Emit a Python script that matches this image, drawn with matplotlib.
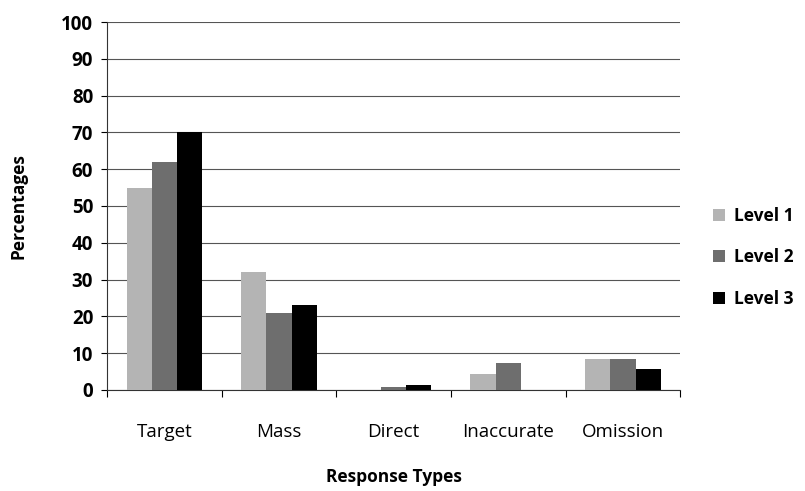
import numpy as np
import matplotlib.pyplot as plt

plt.rcParams['font.family'] = ['Open Sans', 'DejaVu Sans']

categories = ['Target', 'Mass', 'Direct', 'Inaccurate', 'Omission']
level1 = [55, 32, 0, 4.3, 8.3]
level2 = [62, 21, 0.8, 7.3, 8.3]
level3 = [70, 23, 1.4, 0, 5.7]
series_names = ['Level 1', 'Level 2', 'Level 3']

colors = ['#b4b4b4', '#6e6e6e', '#000000']

fig = plt.figure(figsize=(8.05, 4.91), dpi=100)
ax = fig.add_axes([0.133, 0.206, 0.712, 0.749])

x = np.arange(len(categories))
w = 0.22
for i, (vals, name) in enumerate(zip([level1, level2, level3], series_names)):
    ax.bar(x + (i - 1) * w, vals, width=w, color=colors[i], label=name, zorder=3)

ax.set_xlim(-0.5, len(categories) - 0.5)
ax.set_ylim(0, 100)
ax.set_yticks(range(0, 101, 10))
ax.yaxis.grid(True, color='#555555', linewidth=0.8, zorder=0)
for lab in ax.get_yticklabels():
    lab.set_fontweight('bold')
ax.tick_params(axis='y', labelsize=13.5, length=4, direction='out', pad=6)

# boundaries ticks, labels in the middle
ax.set_xticks(np.arange(-0.5, len(categories), 1.0))
ax.set_xticklabels([])
ax.set_xticks(x, minor=True)
ax.set_xticklabels(categories, minor=True, fontsize=13.5)
ax.tick_params(axis='x', which='major', length=5, direction='out')
ax.tick_params(axis='x', which='minor', length=0, pad=24)

for s in ['top', 'right']:
    ax.spines[s].set_visible(False)
ax.spines['left'].set_color('#333333')
ax.spines['bottom'].set_color('#333333')

ax.set_ylabel('Percentages', fontsize=12.5, fontweight='bold', labelpad=24)
ax.set_xlabel('Response Types', fontsize=12.5, fontweight='bold', labelpad=19)

ax.legend(loc='center left', bbox_to_anchor=(1.03, 0.36), frameon=False,
          handlelength=0.7, handleheight=0.7, labelspacing=1.35,
          handletextpad=0.5, prop={'weight': 'bold', 'size': 12.5})

fig.savefig('out.png', dpi=100)
